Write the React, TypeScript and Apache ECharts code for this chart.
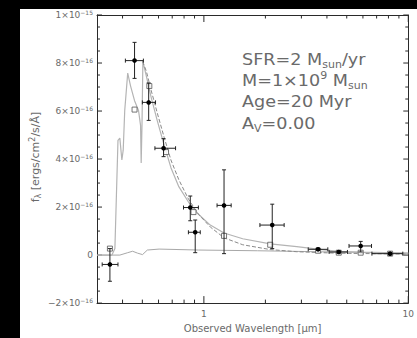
import React, { useEffect, useRef } from 'react';
import * as echarts from 'echarts';

// Wavelength in micron, flux in units of 1e-16 ergs/cm^2/s/A
const xMajorTicks = [1, 10];
const xMinorTicks = [0.4, 0.5, 0.6, 0.7, 0.8, 0.9, 2, 3, 4, 5, 6, 7, 8, 9];
const xTickLabels = [1, 10];

const yTickValues = [-2, 0, 2, 4, 6, 8, 10];
const yMinorTicks = [-1.5, -1, -0.5, 0.5, 1, 1.5, 2.5, 3, 3.5, 4.5, 5, 5.5, 6.5, 7, 7.5, 8.5, 9, 9.5];
const yTickLabels = ['−2×10{sup|−16}', '0', '2×10{sup|−16}', '4×10{sup|−16}', '6×10{sup|−16}', '8×10{sup|−16}', '1×10{sup|−15}'];

// model spectrum (solid light grey)
const specLambda = [0.301, 0.355, 0.367, 0.380, 0.388, 0.397, 0.403, 0.410, 0.424, 0.438, 0.458, 0.479, 0.490, 0.4935, 0.498, 0.503, 0.523, 0.553, 0.591, 0.639, 0.690, 0.754, 0.842, 0.941, 1.075, 1.255, 1.549, 2.111, 2.847, 3.592, 4.531, 5.847, 10];
const specFlux = [0, 0, 0.27, 4.78, 4.87, 3.96, 4.37, 6.02, 7.58, 7.04, 6.43, 6.02, 5.40, 3.84, 5.40, 8.07, 7.45, 6.55, 5.61, 4.58, 3.64, 2.85, 2.20, 1.70, 1.25, 0.92, 0.68, 0.47, 0.35, 0.25, 0.16, 0.12, 0.08];

// second model (dashed)
const dashLambda = [0.501, 0.523, 0.553, 0.591, 0.639, 0.690, 0.754, 0.842, 0.941, 1.075, 1.255, 1.549, 2.111, 2.847, 4.43, 10];
const dashFlux = [8.07, 7.66, 6.84, 5.93, 4.91, 3.96, 3.14, 2.32, 1.70, 1.17, 0.72, 0.43, 0.23, 0.14, 0.08, 0.04];

// low curve near zero
const lowLambda = [0.3, 0.388, 0.424, 0.448, 0.474, 0.501, 0.529, 0.604, 0.941, 1.83, 3.55, 10];
const lowFlux = [0, 0, 0.10, 0.16, 0.08, 0.02, 0.21, 0.25, 0.21, 0.18, 0.14, 0.08];

// model photometry (open squares)
const modelLambda = [0.347, 0.458, 0.541, 0.653, 0.890, 1.255, 2.111, 3.62, 4.57, 5.85, 8.15];
const modelFlux = [0.27, 6.06, 7.04, 4.29, 1.79, 0.80, 0.43, 0.18, 0.10, 0.10, 0.06];

// observed photometry with error bars
const photLambda = [0.347, 0.458, 0.537, 0.635, 0.858, 0.907, 1.255, 2.16, 3.62, 4.57, 5.85, 8.15];
const photLambdaLo = [0.318, 0.413, 0.50, 0.576, 0.795, 0.84, 1.16, 1.88, 3.24, 4.10, 5.13, 6.64];
const photLambdaHi = [0.380, 0.506, 0.58, 0.727, 0.94, 0.96, 1.36, 2.47, 4.04, 5.04, 6.61, 9.40];
const photFlux = [-0.39, 8.10, 6.36, 4.45, 1.98, 0.95, 2.07, 1.25, 0.24, 0.13, 0.38, 0.06];
const photFluxLo = [-1.09, 7.36, 5.61, 4.10, 1.43, 0.10, 0.06, 0.27, 0.19, 0.08, 0.13, 0.01];
const photFluxHi = [0.27, 8.86, 7.17, 4.85, 2.46, 1.46, 3.55, 2.12, 0.29, 0.18, 0.57, 0.11];

const annotations = ['SFR=2 M{sub|sun}/yr', 'M=1×10{sup|9} M{sub|sun}', 'Age=20 Myr', 'A{sub|V}=0.00'];
const yAxisTitle = 'f{sub|λ} [ergs/cm{sup|2}/s/Å]';
const xAxisTitle = 'Observed Wavelength [μm]';

const FONT = 'DejaVu Sans';
const AXIS_COLOR = '#2a2a2a';
const TEXT_COLOR = '#6a6a6a';

export default function App() {
  const ref = useRef<HTMLDivElement>(null);
  useEffect(() => {
    if (!ref.current) return;
    const chart = echarts.init(ref.current, null, { renderer: 'svg' });
    const zip = (a: number[], b: number[]) => a.map((v, i) => [v, b[i]]);
    const photData = photLambda.map((l, i) => [l, photFlux[i], photLambdaLo[i], photLambdaHi[i], photFluxLo[i], photFluxHi[i]]);
    const xTickData = [...xMajorTicks.map((v) => [v, 1]), ...xMinorTicks.map((v) => [v, 0])];
    const yTickData = [...yTickValues.map((v) => [1, v, 1]), ...yMinorTicks.map((v) => [1, v, 0])];

    const tickStyle = { stroke: AXIS_COLOR, lineWidth: 1 };

    const option: any = {
      animation: false,
      backgroundColor: '#ffffff',
      grid: { left: 77, top: 4, right: 4, bottom: 33, containLabel: false },
      xAxis: [
        {
          type: 'log',
          logBase: 10,
          min: 0.3,
          max: 10,
          position: 'bottom',
          axisLine: { show: true, onZero: false, lineStyle: { color: AXIS_COLOR, width: 1 } },
          axisTick: { show: false },
          minorTick: { show: false },
          axisLabel: { show: true, customValues: xTickLabels, margin: 6, color: TEXT_COLOR, fontSize: 9, fontFamily: FONT, formatter: (v: number) => String(v) },
          splitLine: { show: false },
          name: xAxisTitle,
          nameLocation: 'middle',
          nameGap: 19,
          nameTextStyle: { color: TEXT_COLOR, fontSize: 10, fontFamily: FONT },
        },
        {
          type: 'log',
          logBase: 10,
          min: 0.3,
          max: 10,
          position: 'top',
          axisLine: { show: true, onZero: false, lineStyle: { color: AXIS_COLOR, width: 1 } },
          axisTick: { show: false },
          axisLabel: { show: false },
          splitLine: { show: false },
        },
      ],
      yAxis: [
        {
          type: 'value',
          min: -2,
          max: 10,
          interval: 2,
          position: 'left',
          axisLine: { show: true, onZero: false, lineStyle: { color: AXIS_COLOR, width: 1 } },
          axisTick: { show: false },
          axisLabel: {
            show: true,
            margin: 4,
            color: TEXT_COLOR,
            fontSize: 9,
            fontFamily: FONT,
            lineHeight: 12,
            formatter: (v: number) => {
              const i = yTickValues.indexOf(Math.round(v));
              return i >= 0 ? yTickLabels[i] : '';
            },
            rich: { sup: { fontSize: 6, lineHeight: 6, verticalAlign: 'top', color: TEXT_COLOR, fontFamily: FONT } },
          },
          splitLine: { show: false },
        },
        {
          type: 'value',
          min: -2,
          max: 10,
          interval: 2,
          position: 'right',
          axisLine: { show: true, onZero: false, lineStyle: { color: AXIS_COLOR, width: 1 } },
          axisTick: { show: false },
          axisLabel: { show: false },
          splitLine: { show: false },
        },
      ],
      series: [
        {
          type: 'custom',
          xAxisIndex: 0,
          yAxisIndex: 0,
          data: xTickData,
          encode: { x: 0, y: 1 },
          silent: true,
          z: 1,
          renderItem: (params: any, api: any) => {
            const cs = params.coordSys;
            const p = api.coord([api.value(0), 0]);
            const len = api.value(1) ? 7 : 3.5;
            const top = cs.y;
            const bottom = cs.y + cs.height;
            return {
              type: 'group',
              children: [
                { type: 'line', shape: { x1: p[0], y1: bottom, x2: p[0], y2: bottom - len }, style: tickStyle },
                { type: 'line', shape: { x1: p[0], y1: top, x2: p[0], y2: top + len }, style: tickStyle },
              ],
            };
          },
        },
        {
          type: 'custom',
          xAxisIndex: 0,
          yAxisIndex: 0,
          data: yTickData,
          encode: { x: 0, y: 1 },
          silent: true,
          z: 1,
          renderItem: (params: any, api: any) => {
            const cs = params.coordSys;
            const p = api.coord([1, api.value(1)]);
            const len = api.value(2) ? 5 : 3;
            const left = cs.x;
            const right = cs.x + cs.width;
            return {
              type: 'group',
              children: [
                { type: 'line', shape: { x1: left, y1: p[1], x2: left + len, y2: p[1] }, style: tickStyle },
                { type: 'line', shape: { x1: right, y1: p[1], x2: right - len, y2: p[1] }, style: tickStyle },
              ],
            };
          },
        },
        {
          type: 'line',
          xAxisIndex: 0,
          yAxisIndex: 0,
          data: zip(lowLambda, lowFlux),
          showSymbol: false,
          symbol: 'none',
          lineStyle: { color: '#a8a8a8', width: 1 },
          z: 2,
        },
        {
          type: 'line',
          xAxisIndex: 0,
          yAxisIndex: 0,
          data: zip(specLambda, specFlux),
          showSymbol: false,
          symbol: 'none',
          lineStyle: { color: '#b4b4b4', width: 1.2 },
          z: 2,
        },
        {
          type: 'line',
          xAxisIndex: 0,
          yAxisIndex: 0,
          data: zip(dashLambda, dashFlux),
          showSymbol: false,
          symbol: 'none',
          lineStyle: { color: '#8a8a8a', width: 1, type: [4, 2] },
          z: 3,
        },
        {
          type: 'scatter',
          xAxisIndex: 0,
          yAxisIndex: 0,
          data: zip(modelLambda, modelFlux),
          symbol: 'rect',
          symbolSize: 5,
          itemStyle: { color: '#ffffff', borderColor: '#555555', borderWidth: 1 },
          z: 4,
        },
        {
          type: 'custom',
          xAxisIndex: 0,
          yAxisIndex: 0,
          data: photData,
          encode: { x: 0, y: 1 },
          z: 5,
          renderItem: (params: any, api: any) => {
            const x = api.value(0);
            const y = api.value(1);
            const c = api.coord([x, y]);
            const xl = api.coord([api.value(2), y]);
            const xh = api.coord([api.value(3), y]);
            const yl = api.coord([x, api.value(4)]);
            const yh = api.coord([x, api.value(5)]);
            const st = { stroke: '#222', lineWidth: 1 };
            const cap = 2;
            return {
              type: 'group',
              children: [
                { type: 'line', shape: { x1: xl[0], y1: c[1], x2: xh[0], y2: c[1] }, style: st },
                { type: 'line', shape: { x1: xl[0], y1: c[1] - cap, x2: xl[0], y2: c[1] + cap }, style: st },
                { type: 'line', shape: { x1: xh[0], y1: c[1] - cap, x2: xh[0], y2: c[1] + cap }, style: st },
                { type: 'line', shape: { x1: c[0], y1: yl[1], x2: c[0], y2: yh[1] }, style: st },
                { type: 'line', shape: { x1: c[0] - cap, y1: yl[1], x2: c[0] + cap, y2: yl[1] }, style: st },
                { type: 'line', shape: { x1: c[0] - cap, y1: yh[1], x2: c[0] + cap, y2: yh[1] }, style: st },
                { type: 'circle', shape: { cx: c[0], cy: c[1], r: 2.3 }, style: { fill: '#000' } },
              ],
            };
          },
        },
      ],
      graphic: [
        ...annotations.map((t, i) => ({
          type: 'text',
          x: 222,
          y: 50 + i * 21.3,
          scaleX: 1.1,
          z: 10,
          style: {
            text: t,
            fill: TEXT_COLOR,
            fontSize: 16,
            fontFamily: FONT,
            verticalAlign: 'middle',
            lineHeight: 20,
            rich: {
              sub: { fontSize: 10, lineHeight: 10, verticalAlign: 'bottom', fill: TEXT_COLOR, fontFamily: FONT },
              sup: { fontSize: 10, lineHeight: 10, verticalAlign: 'top', fill: TEXT_COLOR, fontFamily: FONT },
            },
          },
        })),
        {
          type: 'text',
          x: 15,
          y: 148,
          rotation: Math.PI / 2,
          z: 10,
          style: {
            text: yAxisTitle,
            fill: TEXT_COLOR,
            fontSize: 11,
            fontFamily: FONT,
            align: 'center',
            verticalAlign: 'middle',
            lineHeight: 14,
            rich: {
              sub: { fontSize: 8, lineHeight: 8, verticalAlign: 'bottom', fill: TEXT_COLOR, fontFamily: FONT },
              sup: { fontSize: 8, lineHeight: 8, verticalAlign: 'top', fill: TEXT_COLOR, fontFamily: FONT },
            },
          },
        },
      ],
    };
    chart.setOption(option);
    return () => chart.dispose();
  }, []);

  return (
    <div style={{ position: 'fixed', left: 0, top: 0, width: 417, height: 338, background: '#000' }}>
      <div ref={ref} style={{ position: 'absolute', left: 20, top: 9, width: 397, height: 329, background: '#fff' }} />
    </div>
  );
}
